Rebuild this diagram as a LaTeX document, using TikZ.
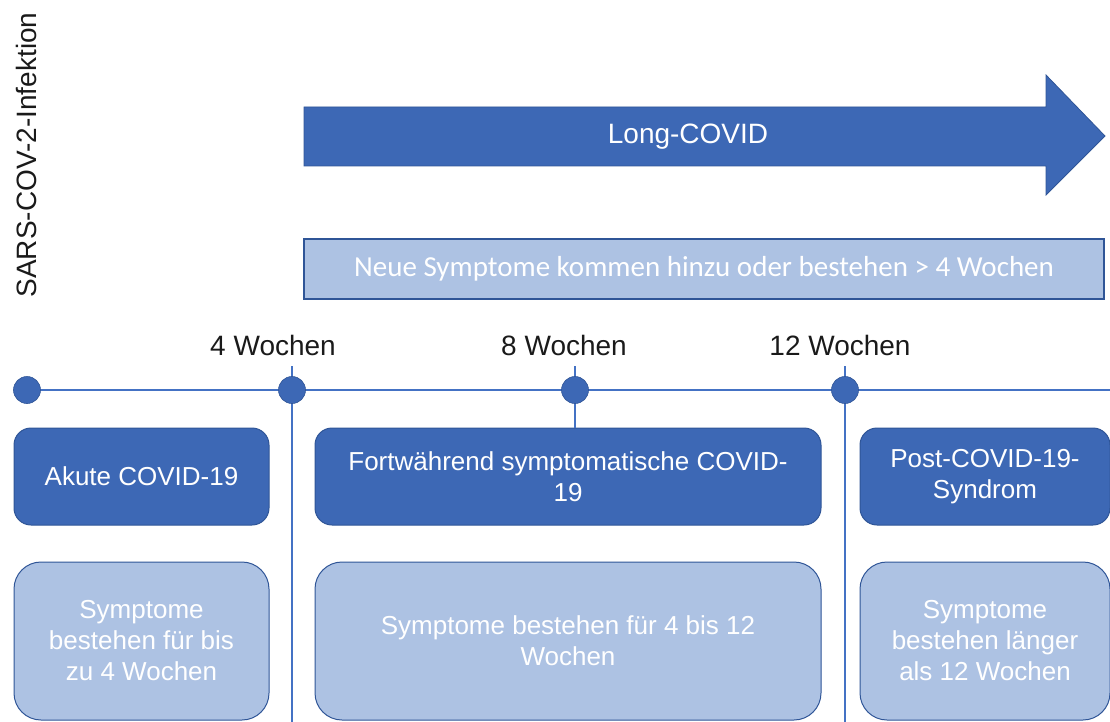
\documentclass[tikz,border=0pt]{standalone}
\usepackage{fontspec}
\setmainfont{Liberation Sans}
\newfontfamily\calibfont{Carlito}
\definecolor{darkblue}{HTML}{3D68B5}
\definecolor{lightblue}{HTML}{ADC2E3}
\definecolor{bordc}{HTML}{2F5597}
\definecolor{linec}{HTML}{4472C4}
\definecolor{labelc}{HTML}{1A1A1A}
\newcommand\bxfont{\fontsize{26}{31}\selectfont}
\newcommand\lbfont{\fontsize{28}{33}\selectfont}
\tikzset{
  darkbox/.style={draw=bordc, line width=1pt, fill=darkblue, rounded corners=17pt,
    text=white, font=\bxfont, align=center, inner sep=0pt},
  lightbox/.style={draw=bordc, line width=1pt, fill=lightblue, rounded corners=27pt,
    text=white, font=\bxfont, align=center, inner sep=0pt},
  dotnode/.style={circle, fill=darkblue, draw=bordc, line width=0.6pt, minimum size=27pt, inner sep=0pt},
  weeklabel/.style={font=\lbfont, text=labelc, anchor=base, inner sep=0pt},
  tline/.style={draw=linec, line width=1.6pt},
  newbox/.style={draw=bordc, line width=1.4pt, fill=lightblue, text=white,
    font=\calibfont\fontsize{29}{34}\selectfont, inner sep=0pt},
  arrowshape/.style={draw=bordc, line width=0.8pt, fill=darkblue}
}
\begin{document}
\begin{tikzpicture}[x=1pt,y=-1pt]
\useasboundingbox (0,0) rectangle (1110,722);

% vertical text
\node[rotate=90, font=\lbfont, text=labelc, inner sep=0pt] (sars) at (26,155) {SARS-COV-2-Infektion};

% Long-COVID arrow
\draw[arrowshape] (304,107) -- (1046,107) -- (1046,75) -- (1105,136) -- (1046,195) -- (1046,166) -- (304,166) -- cycle;
\node[font=\lbfont, text=white, inner sep=0pt] (longcovid) at (688,137) {Long-COVID};

% new symptoms box
\node[newbox, minimum width=800pt, minimum height=60pt] (neu) at (704,269) {Neue Symptome kommen hinzu oder bestehen > 4 Wochen};

% week labels
\node[weeklabel] (w4) at (273,355) {4 Wochen};
\node[weeklabel] (w8) at (564,355) {8 Wochen};
\node[weeklabel] (w12) at (840,355) {12 Wochen};

% boxes
\node[darkbox, minimum width=255pt, minimum height=97pt] (akut) at (141.5,476.5) {Akute COVID-19};
\node[darkbox, minimum width=506pt, minimum height=97pt] (fort) at (568,476.5) {Fortwährend symptomatische COVID-\\19};
\node[darkbox, minimum width=250pt, minimum height=97pt] (post) at (985,476.5) {Post-COVID-19-\\Syndrom};

\node[lightbox, minimum width=255pt, minimum height=158pt] (akutd) at (141.5,641) {Symptome\\bestehen für bis\\zu 4 Wochen};
\node[lightbox, minimum width=506pt, minimum height=158pt] (fortd) at (568,641) {Symptome bestehen für 4 bis 12\\Wochen};
\node[lightbox, minimum width=250pt, minimum height=158pt] (postd) at (985,641) {Symptome\\bestehen länger\\als 12 Wochen};

% timeline coordinates
\coordinate (v4top) at (292,366);
\coordinate (v4bot) at (292,722);
\coordinate (v8top) at (575,366);
\coordinate (v12top) at (845,366);
\coordinate (v12bot) at (845,722);
\coordinate (tend) at (1110,390);
\coordinate (tstart) at (27,390);

\draw[tline] (tstart) -- (tend);
\draw[tline] (v4top) -- (v4bot);
\draw[tline] (v8top) -- (v8top |- fort.north);
\draw[tline] (v12top) -- (v12bot);

\node[dotnode] (d0) at (27,390) {};
\node[dotnode] (d4) at (292,390) {};
\node[dotnode] (d8) at (575,390) {};
\node[dotnode] (d12) at (845,390) {};
\end{tikzpicture}
\end{document}
